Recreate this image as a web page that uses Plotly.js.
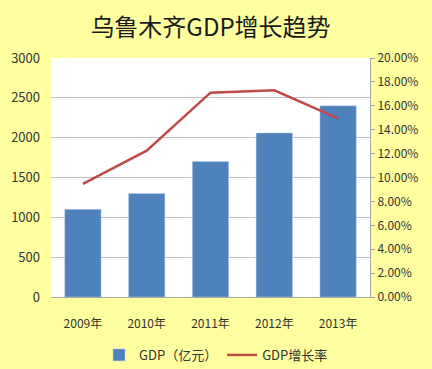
<!DOCTYPE html>
<html><head><meta charset="utf-8">
<script src="https://cdn.plot.ly/plotly-3.0.1.min.js"></script>
<style>html,body{margin:0;padding:0;background:#FFFFA0;}</style>
</head><body>
<div id="chart" style="width:432px;height:369px;"></div>
<script>
const years = ["2009年","2010年","2011年","2012年","2013年"];
const gdp = [1100, 1300, 1700, 2060, 2400];
const growth = [0.0946, 0.1224, 0.1710, 0.1730, 0.1495];
const leftTicks = [0,500,1000,1500,2000,2500,3000];
const rightTicks = [0,0.02,0.04,0.06,0.08,0.10,0.12,0.14,0.16,0.18,0.20];

const font = "'Noto Sans CJK SC', 'Noto Sans', sans-serif";
const data = [
  {type:"bar", x:years, y:gdp, name:"GDP（亿元）", marker:{color:"#4F81BD", line:{color:"#C6D3E6", width:0.5}}},
  {type:"scatter", mode:"lines", x:years, y:growth, name:"GDP增长率", yaxis:"y2", line:{color:"#BE4B48", width:2.5}}
];
const layout = {
  width:432, height:369,
  paper_bgcolor:"#FFFFA0", plot_bgcolor:"#FFFFFF",
  margin:{l:51, r:62, t:58, b:72, autoexpand:false},
  font:{family:font, size:12, color:"#333"},
  title:{text:"乌鲁木齐GDP增长趋势", x:0.5, xanchor:"center", xref:"paper", y:0.924, yref:"container", yanchor:"middle", font:{family:font, size:24, color:"#1a1a1a"}},
  bargap:0.43,
  showlegend:true,
  legend:{orientation:"h", x:0.5, xanchor:"center", xref:"container", y:0.038, yref:"container", yanchor:"middle", font:{size:13, color:"#333"}, itemwidth:30, traceorder:"normal", bgcolor:"rgba(0,0,0,0)"},
  xaxis:{showgrid:false, showline:true, linecolor:"#A6A6A6", linewidth:1, ticks:"", tickfont:{size:12, color:"#333"}, ticklabelstandoff:16, fixedrange:true},
  yaxis:{range:[0,3000], tickvals:leftTicks, showgrid:true, gridcolor:"#BFBFBF", gridwidth:1, zeroline:false, showline:false, ticks:"", tickfont:{size:13,color:"#333"}, ticklabelstandoff:10},
  yaxis2:{overlaying:"y", side:"right", range:[0,0.20], tickvals:rightTicks, tickformat:".2%", showgrid:false, zeroline:false, showline:true, linecolor:"#A6A6A6", linewidth:1, ticks:"outside", ticklen:4, tickcolor:"#A6A6A6", tickfont:{size:12,color:"#333"}}
};
Plotly.newPlot("chart", data, layout, {displayModeBar:false, staticPlot:true});
</script>
</body></html>
